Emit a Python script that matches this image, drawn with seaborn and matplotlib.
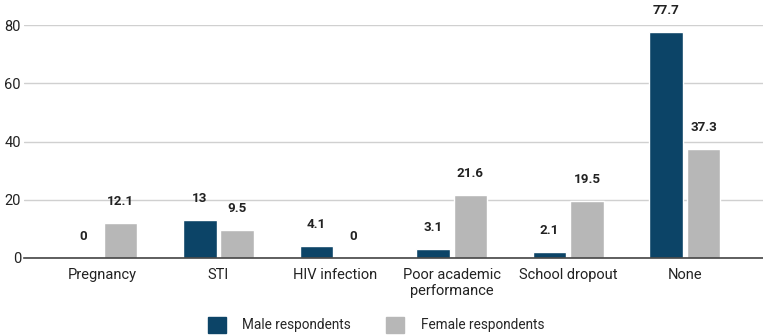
import matplotlib
matplotlib.use('Agg')
import matplotlib.pyplot as plt
import pandas as pd
import seaborn as sns

categories = ['Pregnancy', 'STI', 'HIV infection', 'Poor academic\nperformance',
              'School dropout', 'None']
male = [0, 13, 4.1, 3.1, 2.1, 77.7]
female = [12.1, 9.5, 0, 21.6, 19.5, 37.3]
series = ['Male respondents', 'Female respondents']
colors = ['#0c4467', '#b7b7b7']

df = pd.DataFrame({
    'category': categories * 2,
    'value': male + female,
    'group': [series[0]] * len(categories) + [series[1]] * len(categories),
})

sns.set_theme(style='white')
plt.rcParams['font.family'] = ['Roboto', 'DejaVu Sans']

fig = plt.figure(figsize=(7.63, 3.35), dpi=100)
ax = fig.add_axes([0.031, 0.23, 0.969, 0.695])

sns.barplot(data=df, x='category', y='value', hue='group', order=categories,
            hue_order=series, palette=colors, width=0.64, gap=0.1,
            saturation=1, legend=False, ax=ax)

# value labels above bars
for cont in ax.containers:
    for bar in cont:
        h = bar.get_height()
        ax.annotate(f'{h:g}', (bar.get_x() + bar.get_width() / 2, h),
                    xytext=(0, 13), textcoords='offset points',
                    ha='center', va='baseline', fontsize=9.6,
                    fontweight='bold', color='#222222', annotation_clip=False)

ax.set_ylim(0, 80)
ax.set_xlim(-0.67, 5.67)
ax.set_yticks([0, 20, 40, 60, 80])
ax.yaxis.grid(True, color='#d0d0d0', linewidth=1)
ax.set_axisbelow(True)
ax.set_xlabel('')
ax.set_ylabel('')
ax.tick_params(axis='both', length=0, labelsize=10.5, colors='#222222')
ax.tick_params(axis='y', pad=2)
ax.tick_params(axis='x', pad=7)
for s in ['top', 'right', 'left']:
    ax.spines[s].set_visible(False)
ax.spines['bottom'].set_color('#444444')
ax.spines['bottom'].set_linewidth(1.2)

handles = [plt.Rectangle((0, 0), 1, 1, color=c) for c in colors]
fig.legend(handles, series, loc='lower center', bbox_to_anchor=(0.493, -0.03),
           ncol=2, frameon=False, fontsize=9.8, handlelength=1.3, handleheight=1.4,
           columnspacing=2.6, handletextpad=1.2)

fig.savefig('out.png', dpi=100)
